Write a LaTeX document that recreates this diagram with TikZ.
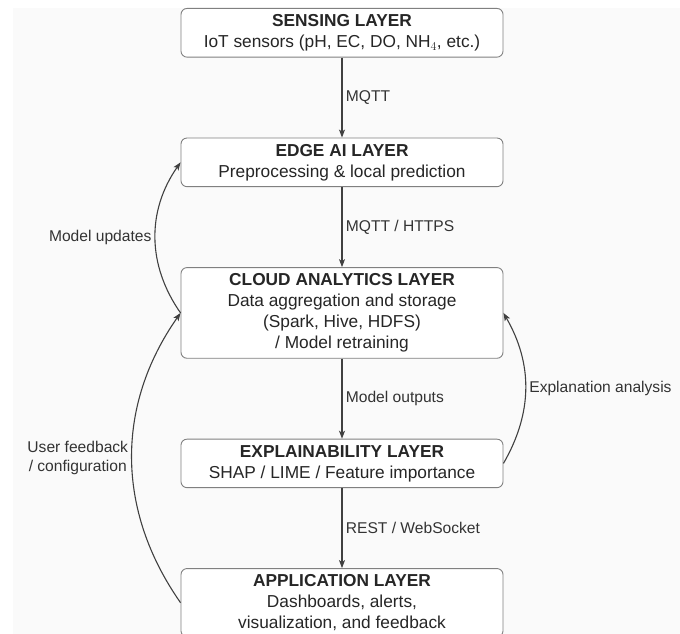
\documentclass[tikz,border=0pt]{standalone}
\usepackage{fontspec}
\setmainfont{Liberation Sans}
\usetikzlibrary{math}
\usetikzlibrary{positioning,arrows.meta}

\begin{document}
\begin{tikzpicture}[
	layer/.style={draw=black!50, line width=0.9pt, fill=white, rounded corners=6pt,
		minimum width=322pt, inner ysep=6pt, align=center, text=black!85,
		font=\fontsize{17.3}{21}\selectfont},
	flow/.style={draw=black!75, line width=1.1pt, -{Stealth[length=8pt,width=6pt,inset=2pt]}},
	lbl/.style={text=black!80, font=\fontsize{15.6}{19}\selectfont},
	node distance=80pt
]
	\tikzmath{
		\picW = 680;
		\picH = 634;
	}

	% page, off-white backdrop
	\useasboundingbox (0,0) rectangle (\picW pt,-\picH pt);
	\clip (0,0) rectangle (\picW pt,-\picH pt);
	\fill[white] (0,0) rectangle (\picW pt,-\picH pt);
	\fill[black!2] (13pt,-8pt) rectangle (\picW pt,-\picH pt);

	% the five layers, top to bottom
	\node[layer, anchor=north] (sensing) at (342pt,-8pt)
		{\textbf{SENSING LAYER}\\IoT sensors (pH, EC, DO, NH$_4$, etc.)};
	\node[layer, below=of sensing] (edge)
		{\textbf{EDGE AI LAYER}\\Preprocessing \& local prediction};
	\node[layer, below=of edge] (cloud)
		{\textbf{CLOUD ANALYTICS LAYER}\\Data aggregation and storage\\(Spark, Hive, HDFS)\\/ Model retraining};
	\node[layer, below=of cloud] (explain)
		{\textbf{EXPLAINABILITY LAYER}\\SHAP / LIME / Feature importance};
	\node[layer, below=of explain] (app)
		{\textbf{APPLICATION LAYER}\\Dashboards, alerts,\\visualization, and feedback};

	% data flow down
	\draw[flow] (sensing) -- node[lbl, right] {MQTT} (edge);
	\draw[flow] (edge) -- node[lbl, right] {MQTT / HTTPS} (cloud);
	\draw[flow] (cloud) -- node[lbl, right] {Model outputs} (explain);
	\draw[flow] (explain) -- node[lbl, right] {REST / WebSocket} (app);

	% feedback loops
	\draw[flow] (cloud.west) to[bend left=35] node[lbl, left] {Model updates} (edge.west);
	\draw[flow] (app.west) to[bend left=35] node[lbl, left, align=center] {User feedback\\/ configuration} (cloud.west);
	\draw[flow] (explain.east) to[bend right=30] node[lbl, right] {Explanation analysis} (cloud.east);
\end{tikzpicture}
\end{document}
